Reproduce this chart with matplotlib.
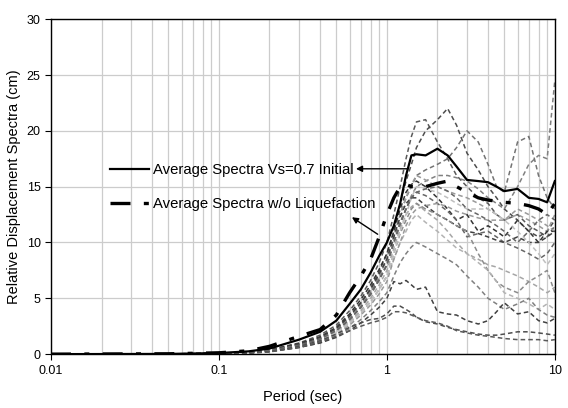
import matplotlib
matplotlib.use("Agg")
import matplotlib.pyplot as plt
from matplotlib.ticker import FixedLocator, FixedFormatter, LogLocator, NullFormatter

plt.rcParams['font.family'] = ['Liberation Sans', 'DejaVu Sans']

# ── datos ──
periodos = [0.01, 0.05, 0.1, 0.15, 0.2, 0.3, 0.4, 0.5, 0.6, 0.7, 0.8, 0.9,
            1.0, 1.1, 1.2, 1.3, 1.4, 1.5, 1.7, 2.0, 2.3, 2.6, 3.0, 3.5,
            4.0, 4.5, 5.0, 6.0, 7.0, 8.0, 9.0, 10.0]

prom_inicial = [0, 0.02, 0.1, 0.25, 0.5, 1.3, 2.0, 3.0, 4.5, 5.8, 7.3, 8.8,
                10.0, 11.5, 13.5, 16.0, 17.8, 17.9, 17.8, 18.4, 17.8, 16.8, 15.6, 15.5,
                15.4, 15.0, 14.6, 14.8, 14.0, 13.9, 13.6, 15.5]

prom_sin_licuacion = [0, 0.03, 0.12, 0.3, 0.7, 1.6, 2.2, 3.5, 5.5, 7.0, 8.5, 10.5,
                      12.5, 14.0, 15.0, 15.2, 15.0, 15.0, 15.0, 15.3, 15.5, 15.0, 14.5, 14.0,
                      13.8, 13.7, 13.6, 13.5, 13.3, 13.0, 12.5, 13.5]

# registros individuales: (gris, valores)
registros = [
    (0.35, [0, 0.02, 0.08, 0.2, 0.4, 1.0, 1.7, 2.6, 3.9, 5.2, 6.6, 8.2,
            10.0, 12.5, 15.0, 17.5, 19.5, 20.8, 21.0, 19.0, 17.5, 16.0, 15.0, 14.0,
            13.5, 12.5, 12.0, 12.5, 11.5, 11.0, 10.5, 11.5]),
    (0.30, [0, 0.02, 0.07, 0.18, 0.35, 0.9, 1.5, 2.3, 3.4, 4.6, 5.9, 7.4,
            9.0, 11.0, 13.5, 15.5, 17.0, 18.5, 20.0, 21.0, 22.0, 20.5, 18.0, 16.5,
            15.0, 14.0, 13.0, 12.0, 11.0, 10.5, 11.0, 12.0]),
    (0.45, [0, 0.02, 0.07, 0.17, 0.33, 0.85, 1.4, 2.2, 3.3, 4.4, 5.6, 7.0,
            8.5, 10.5, 12.5, 14.0, 15.0, 16.0, 16.5, 17.0, 17.5, 18.5, 20.0, 19.0,
            17.0, 15.0, 14.5, 19.0, 19.5, 16.0, 14.0, 13.0]),
    (0.50, [0, 0.02, 0.06, 0.16, 0.32, 0.8, 1.35, 2.1, 3.1, 4.2, 5.3, 6.6,
            8.0, 10.0, 11.5, 13.0, 14.2, 15.0, 15.5, 16.0, 16.0, 15.8, 15.5, 14.8,
            14.0, 13.5, 13.0, 15.0, 17.0, 17.8, 17.5, 24.5]),
    (0.60, [0, 0.02, 0.07, 0.17, 0.34, 0.85, 1.45, 2.2, 3.3, 4.4, 5.7, 7.1,
            8.5, 10.5, 12.5, 14.0, 15.2, 16.0, 15.6, 15.0, 14.6, 14.3, 14.0, 13.5,
            13.0, 12.5, 12.0, 12.5, 12.0, 11.5, 11.0, 12.5]),
    (0.20, [0, 0.02, 0.08, 0.19, 0.37, 0.95, 1.55, 2.4, 3.6, 4.9, 6.2, 7.6,
            9.0, 11.0, 13.0, 14.5, 15.2, 15.5, 15.0, 14.0, 13.0, 12.0, 12.5, 11.0,
            11.5, 11.0, 10.5, 12.0, 11.0, 10.0, 11.0, 11.0]),
    (0.40, [0, 0.02, 0.06, 0.16, 0.32, 0.8, 1.35, 2.1, 3.1, 4.2, 5.4, 6.7,
            8.0, 10.0, 11.8, 13.0, 14.0, 14.5, 14.2, 13.5, 12.8, 12.0, 10.5, 10.8,
            11.0, 10.5, 10.0, 9.5, 9.0, 8.5, 9.0, 10.0]),
    (0.25, [0, 0.02, 0.07, 0.18, 0.35, 0.9, 1.5, 2.3, 3.4, 4.6, 5.8, 7.2,
            8.5, 10.5, 12.3, 13.5, 14.0, 14.0, 13.3, 12.5, 12.0, 11.5, 11.0, 10.8,
            10.5, 10.2, 10.0, 10.5, 10.0, 10.0, 10.5, 11.0]),
    (0.65, [0, 0.02, 0.06, 0.15, 0.3, 0.75, 1.3, 2.0, 2.9, 3.9, 5.0, 6.2,
            7.5, 9.5, 11.2, 12.5, 13.2, 13.5, 12.8, 12.0, 11.0, 10.0, 9.0, 8.5,
            8.0, 7.8, 7.5, 7.0, 6.5, 6.0, 5.5, 6.0]),
    (0.55, [0, 0.02, 0.06, 0.14, 0.28, 0.7, 1.2, 1.9, 2.8, 3.7, 4.7, 5.8,
            7.0, 9.0, 10.8, 12.0, 13.0, 13.5, 13.0, 12.5, 12.0, 11.5, 11.0, 9.0,
            7.5, 6.5, 6.0, 5.5, 6.5, 7.0, 7.5, 5.5]),
    (0.70, [0, 0.02, 0.06, 0.14, 0.28, 0.7, 1.2, 1.9, 2.8, 3.7, 4.7, 5.8,
            7.0, 8.5, 10.0, 11.0, 12.0, 12.5, 11.8, 11.0, 10.2, 9.5, 9.0, 8.2,
            7.5, 6.5, 5.5, 5.0, 4.5, 4.0, 4.5, 4.0]),
    (0.60, [0, 0.02, 0.05, 0.13, 0.26, 0.65, 1.1, 1.75, 2.6, 3.5, 4.4, 5.4,
            6.5, 8.5, 10.0, 11.5, 12.5, 13.0, 13.3, 13.5, 13.2, 12.8, 12.5, 12.2,
            12.0, 12.0, 12.0, 13.0, 12.5, 12.0, 11.5, 11.0]),
    (0.75, [0, 0.02, 0.06, 0.14, 0.28, 0.7, 1.2, 1.9, 2.8, 3.7, 4.7, 5.8,
            7.0, 9.0, 11.0, 12.5, 14.0, 15.0, 14.8, 14.5, 14.0, 13.5, 13.0, 13.0,
            13.0, 12.5, 12.0, 11.0, 10.0, 9.0, 8.0, 9.0]),
    (0.40, [0, 0.02, 0.06, 0.16, 0.32, 0.8, 1.35, 2.1, 3.1, 4.2, 5.4, 6.7,
            8.0, 10.0, 11.8, 13.0, 14.0, 14.5, 14.8, 15.0, 14.6, 14.0, 13.0, 12.5,
            12.0, 11.5, 11.0, 10.0, 11.0, 12.0, 12.5, 12.0]),
    (0.50, [0, 0.02, 0.05, 0.12, 0.24, 0.6, 1.0, 1.6, 2.3, 3.1, 3.9, 4.7,
            5.5, 7.0, 8.2, 9.0, 9.6, 10.0, 9.6, 9.0, 8.5, 8.0, 7.0, 6.0,
            5.0, 4.5, 4.0, 4.5, 5.0, 4.0, 3.5, 3.3]),
    (0.25, [0, 0.02, 0.05, 0.12, 0.24, 0.6, 1.0, 1.5, 2.1, 2.8, 3.5, 4.2,
            5.0, 6.5, 6.3, 6.6, 6.2, 5.8, 6.0, 3.8, 3.6, 3.5, 3.0, 2.7,
            3.0, 3.8, 4.6, 3.6, 3.8, 3.0, 2.8, 3.2]),
    (0.30, [0, 0.01, 0.04, 0.1, 0.2, 0.7, 1.2, 1.8, 2.4, 2.8, 3.1, 3.2,
            3.6, 4.3, 4.3, 4.0, 3.7, 3.3, 2.9, 2.7, 2.4, 2.2, 2.0, 1.8,
            1.7, 1.7, 1.8, 2.0, 2.0, 1.9, 1.8, 1.7]),
    (0.35, [0, 0.01, 0.04, 0.1, 0.2, 0.6, 1.1, 1.6, 2.1, 2.5, 2.8, 3.0,
            3.3, 3.8, 3.8, 3.7, 3.5, 3.3, 3.0, 2.8, 2.5, 2.1, 1.9, 1.7,
            1.6, 1.5, 1.4, 1.3, 1.3, 1.3, 1.2, 1.3]),
]

# ── figura ──
fig = plt.figure(figsize=(5.68, 4.08), dpi=100)
ax = fig.add_axes([0.0898, 0.132, 0.887, 0.821])

for gris, valores in registros:
    ax.plot(periodos, valores, color=str(gris), linestyle=(0, (3, 2)), linewidth=1.1)

ax.plot(periodos, prom_inicial, color='black', linewidth=1.6,
        label="Average Spectra Vs=0.7 Initial")
ax.plot(periodos, prom_sin_licuacion, color='black', linewidth=2.4,
        linestyle=(0, (6, 4, 1.5, 4)), label="Average Spectra w/o Liquefaction")

ax.set_xscale('log')
ax.set_xlim(0.01, 10)
ax.set_ylim(0, 30)
ax.set_yticks(range(0, 31, 5))
ax.xaxis.set_major_locator(FixedLocator([0.01, 0.1, 1, 10]))
ax.xaxis.set_major_formatter(FixedFormatter(["0.01", "0.1", "1", "10"]))
ax.xaxis.set_minor_locator(LogLocator(base=10, subs=range(2, 10)))
ax.xaxis.set_minor_formatter(NullFormatter())
ax.tick_params(axis='both', which='major', labelsize=9, length=4, direction='out', color='black')
ax.tick_params(axis='x', which='minor', length=0)

ax.grid(True, which='both', axis='x', color='#cccccc', linewidth=0.9)
ax.grid(True, which='major', axis='y', color='#cccccc', linewidth=0.9)
ax.set_axisbelow(True)
for s in ax.spines.values():
    s.set_color('black')
    s.set_linewidth(1.0)

ax.set_xlabel("Period (sec)", fontsize=10.5, labelpad=10)
ax.set_ylabel("Relative Displacement Spectra (cm)", fontsize=10.5)

ax.legend(loc='upper left', bbox_to_anchor=(0.117, 0.571), frameon=False,
          borderpad=0, borderaxespad=0, handlelength=2.6, handletextpad=0.3,
          labelspacing=1.35, fontsize=10.7)

ax.annotate("", xy=(0.63, 16.6), xytext=(1.39, 16.6),
            arrowprops=dict(arrowstyle='-|>', color='black', lw=1.0, mutation_scale=9))
ax.annotate("", xy=(0.60, 12.4), xytext=(0.91, 10.6),
            arrowprops=dict(arrowstyle='-|>', color='black', lw=1.0, mutation_scale=9))

plt.savefig("out.png", dpi=100)
